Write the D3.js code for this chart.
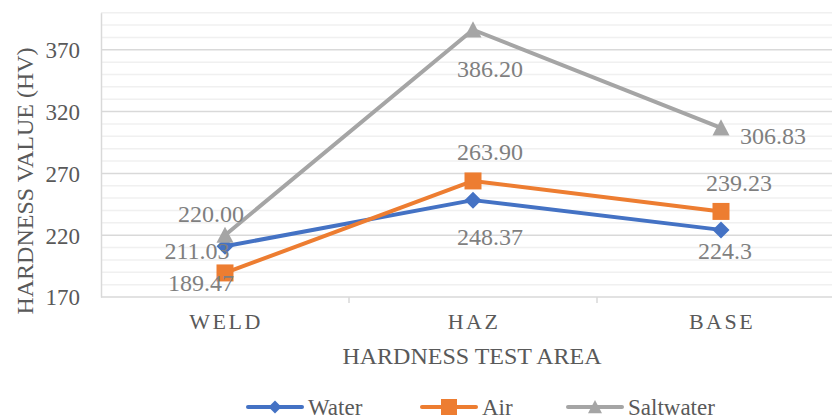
<!DOCTYPE html>
<html>
<head>
<meta charset="utf-8">
<script src="https://cdn.jsdelivr.net/npm/d3@7"></script>
<style>
  html, body { margin: 0; padding: 0; background: #fff; }
  svg { display: block; }
  text { font-family: "Liberation Serif", "Times New Roman", serif; }
</style>
</head>
<body>
<svg id="chart" width="832" height="419"></svg>
<script>
// Hardness test areas along the weld
const categories = ["WELD", "HAZ", "BASE"];

// Hardness (HV) for each quenching medium
const waterValues = [211.03, 248.37, 224.3];
const airValues = [189.47, 263.90, 239.23];
const saltwaterValues = [220.00, 386.20, 306.83];

// Printed value labels
const waterLabels = ["211.03", "248.37", "224.3"];
const airLabels = ["189.47", "263.90", "239.23"];
const saltwaterLabels = ["220.00", "386.20", "306.83"];

// Y axis tick labels
const yTicks = [170, 220, 270, 320, 370];

const series = [
  { name: "Water", values: waterValues, labels: waterLabels, color: "#4472C4", marker: "diamond",
    offsets: [[-28, 4], [17, 36], [4, 21]] },
  { name: "Air", values: airValues, labels: airLabels, color: "#ED7D31", marker: "square",
    offsets: [[-24, 10], [17, -29], [18, -29]] },
  { name: "Saltwater", values: saltwaterValues, labels: saltwaterLabels, color: "#A5A5A5", marker: "triangle",
    offsets: [[-14, -22], [17, 39], [52, 8]] }
];

const svg = d3.select("#chart");
const plot = { left: 101, right: 845, top: 12.7, bottom: 297 };

const x = d3.scalePoint().domain(categories).range([plot.left, plot.right]).padding(0.5);
const y = d3.scaleLinear().domain([170, 400]).range([plot.bottom, plot.top]);

// Minor gridlines every 10 HV, major every 50 HV
const minor = d3.range(180, 401, 10).filter(v => !yTicks.includes(v));
svg.append("g").selectAll("line").data(minor).join("line")
  .attr("x1", plot.left).attr("x2", plot.right)
  .attr("y1", d => y(d)).attr("y2", d => y(d))
  .attr("stroke", "#F0F0F0").attr("stroke-width", 1.5);

svg.append("g").selectAll("line").data(yTicks.slice(1)).join("line")
  .attr("x1", plot.left).attr("x2", plot.right)
  .attr("y1", d => y(d)).attr("y2", d => y(d))
  .attr("stroke", "#D9D9D9").attr("stroke-width", 1.5);

// Y axis line and labels
const yAxis = d3.axisLeft(y).tickValues(yTicks).tickSize(0).tickPadding(21).tickFormat(d3.format("d"));
const gy = svg.append("g").attr("transform", `translate(${plot.left},0)`).call(yAxis);
gy.select(".domain").attr("stroke", "#D9D9D9").attr("stroke-width", 1.5);
gy.selectAll("text").attr("font-size", 23).attr("fill", "#595959")
  .attr("font-family", "'Liberation Serif', 'Times New Roman', serif").attr("dy", "0.34em");

// X axis line, boundary ticks and category labels
const band = x.step();
const gx = svg.append("g");
gx.append("line").attr("x1", plot.left).attr("x2", plot.right)
  .attr("y1", plot.bottom).attr("y2", plot.bottom)
  .attr("stroke", "#D9D9D9").attr("stroke-width", 1.5);
gx.selectAll("line.tick").data(categories.slice(1)).join("line").attr("class", "tick")
  .attr("x1", d => x(d) - band / 2).attr("x2", d => x(d) - band / 2)
  .attr("y1", plot.bottom).attr("y2", plot.bottom + 6)
  .attr("stroke", "#D9D9D9").attr("stroke-width", 1.5);
gx.selectAll("text").data(categories).join("text")
  .attr("x", d => x(d) + 1).attr("y", 329)
  .attr("text-anchor", "middle").attr("font-size", 22).attr("letter-spacing", "2.5px")
  .attr("fill", "#595959").text(d => d);

// Axis titles
svg.append("text").attr("x", 472).attr("y", 364).attr("text-anchor", "middle")
  .attr("font-size", 24).attr("fill", "#595959").text("HARDNESS TEST AREA");
svg.append("text").attr("transform", "translate(33,181) rotate(-90)").attr("text-anchor", "middle")
  .attr("font-size", 24).attr("fill", "#595959").text("HARDNESS VALUE (HV)");

// Marker shapes
function markerPath(type, size) {
  const s = size / 2;
  if (type === "diamond") return `M0,${-s}L${s},0L0,${s}L${-s},0Z`;
  if (type === "square") return `M${-s},${-s}H${s}V${s}H${-s}Z`;
  return `M0,${-s}L${s},${s * 0.9}L${-s},${s * 0.9}Z`;
}

const line = d3.line().x((d, i) => x(categories[i])).y(d => y(d));

series.forEach(s => {
  const g = svg.append("g");
  g.append("path").datum(s.values).attr("d", line)
    .attr("fill", "none").attr("stroke", s.color).attr("stroke-width", 4)
    .attr("stroke-linejoin", "round").attr("stroke-linecap", "round");
  g.selectAll("path.m").data(s.values).join("path").attr("class", "m")
    .attr("transform", (d, i) => `translate(${x(categories[i])},${y(d)})`)
    .attr("d", markerPath(s.marker, 17)).attr("fill", s.color);
});

// Value labels
series.forEach(s => {
  svg.append("g").selectAll("text").data(s.values).join("text")
    .attr("x", (d, i) => x(categories[i]) + s.offsets[i][0])
    .attr("y", (d, i) => y(d) + s.offsets[i][1])
    .attr("dy", "0.35em").attr("text-anchor", "middle")
    .attr("font-size", 24).attr("fill", "#7F7F7F")
    .text((d, i) => s.labels[i]);
});

// Legend
const legendItems = [
  { s: series[0], x0: 248, size: 13 },
  { s: series[1], x0: 422, size: 16 },
  { s: series[2], x0: 568, size: 14 }
];
const lg = svg.append("g");
legendItems.forEach(it => {
  const ly = 407;
  lg.append("line").attr("x1", it.x0).attr("x2", it.x0 + 54).attr("y1", ly).attr("y2", ly)
    .attr("stroke", it.s.color).attr("stroke-width", 4).attr("stroke-linecap", "round");
  lg.append("path").attr("transform", `translate(${it.x0 + 27},${ly})`)
    .attr("d", markerPath(it.s.marker, it.size)).attr("fill", it.s.color);
  lg.append("text").attr("x", it.x0 + 60).attr("y", 415)
    .attr("font-size", 23).attr("fill", "#595959").text(it.s.name);
});
</script>
</body>
</html>
